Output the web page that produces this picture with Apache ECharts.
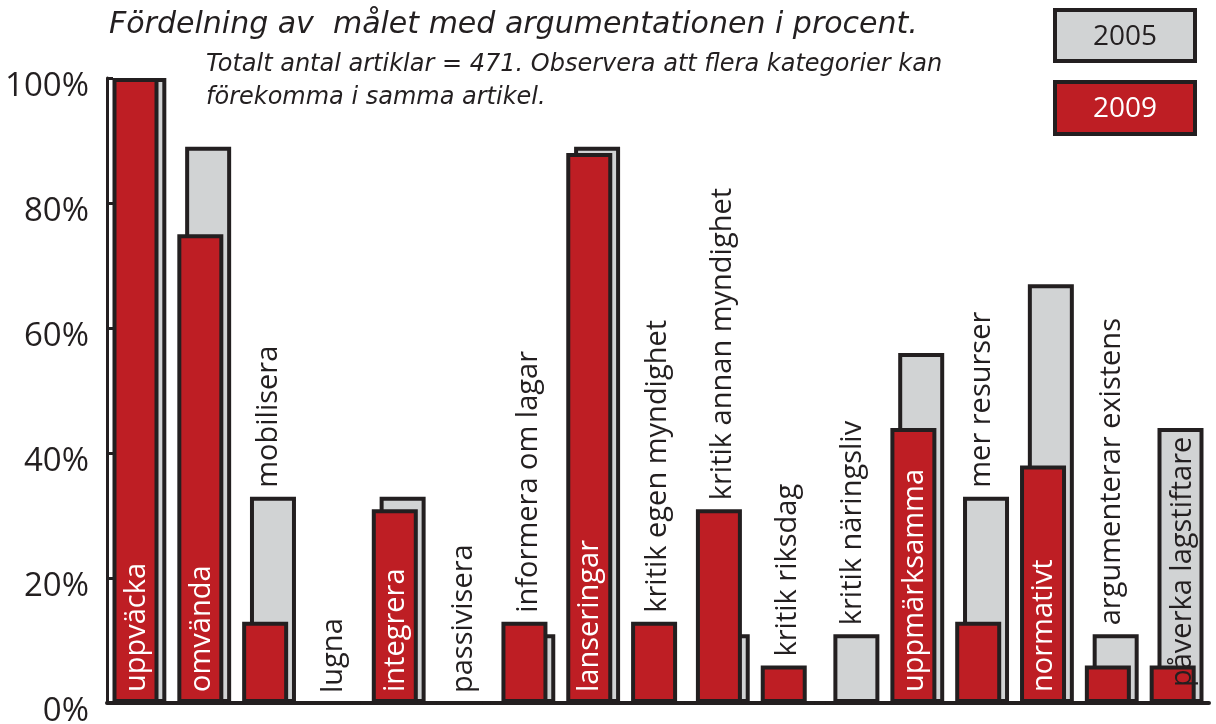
<!DOCTYPE html>
<html>
<head>
<meta charset="utf-8">
<style>
  html, body { margin: 0; padding: 0; background: #fff; }
  #chart { width: 1216px; height: 724px; }
</style>
<script src="https://cdn.jsdelivr.net/npm/echarts@6/dist/echarts.min.js"></script>
</head>
<body>
<div id="chart"></div>
<script>
// kategorier och värden (procent)
const categories = ['uppväcka', 'omvända', 'mobilisera', 'lugna', 'integrera', 'passivisera',
  'informera om lagar', 'lanseringar', 'kritik egen myndighet', 'kritik annan myndighet',
  'kritik riksdag', 'kritik näringsliv', 'uppmärksamma', 'mer resurser', 'normativt',
  'argumenterar existens', 'påverka lagstiftare']
const values2005 = [100, 89, 33, 0, 33, 0, 11, 89, 0, 11, 0, 11, 56, 33, 67, 11, 44]
const values2009 = [100, 75, 13, 0, 31, 0, 13, 88, 13, 31, 6, 0, 44, 13, 38, 6, 6]
// var kategoritexten står: i röd stapel, ovanför stapeln, vid basen, i grå stapel
const labelPlace = ['in', 'in', 'top', 'base', 'in', 'base', 'top', 'in', 'top', 'top',
  'top', 'top', 'in', 'top', 'in', 'top', 'gray']
const yTicks = [0, 20, 40, 60, 80, 100]

const RED = '#be1e24'
const GREY = '#d1d3d4'
const INK = '#231f20'

const chart = echarts.init(document.getElementById('chart'))

const labelData = categories.map((c, i) => [i, labelPlace[i] === 'top' ? Math.max(values2005[i], values2009[i]) : 0])

chart.setOption({
  animation: false,
  title: [{
    text: 'Fördelning av  målet med argumentationen i procent.',
    left: 104,
    top: 5,
    textStyle: { fontFamily: 'DejaVu Sans', fontStyle: 'italic', fontWeight: 'normal', fontSize: 30, color: INK }
  }, {
    text: 'Totalt antal artiklar = 471. Observera att flera kategorier kan\nförekomma i samma artikel.',
    left: 201,
    top: 43,
    textStyle: { fontFamily: 'DejaVu Sans', fontStyle: 'italic', fontWeight: 'normal', fontSize: 24, lineHeight: 33, color: INK }
  }],
  graphic: [{
    type: 'group',
    left: 1053,
    top: 8,
    children: [{
      type: 'rect',
      shape: { x: 0, y: 0, width: 140, height: 51 },
      style: { fill: GREY, stroke: INK, lineWidth: 4 }
    }, {
      type: 'text',
      x: 70, y: 27,
      style: { text: '2005', fill: INK, font: '28px "Open Sans"', align: 'center', verticalAlign: 'middle' }
    }, {
      type: 'rect',
      shape: { x: 0, y: 72, width: 140, height: 52 },
      style: { fill: RED, stroke: INK, lineWidth: 4 }
    }, {
      type: 'text',
      x: 70, y: 99,
      style: { text: '2009', fill: '#fff', font: '28px "Open Sans"', align: 'center', verticalAlign: 'middle' }
    }]
  }],
  grid: {
    left: 107,
    right: 7,
    top: 78,
    bottom: 21,
    outerBoundsMode: 'none'
  },
  xAxis: {
    type: 'category',
    data: categories,
    axisLine: { lineStyle: { color: INK, width: 4 } },
    axisTick: { show: false },
    axisLabel: { show: false }
  },
  yAxis: {
    type: 'value',
    min: 0,
    max: 100,
    interval: 20,
    axisLine: { show: true, lineStyle: { color: INK, width: 3 } },
    axisTick: { show: true, inside: true, length: 6, lineStyle: { color: INK, width: 3 } },
    splitLine: { show: false },
    axisLabel: {
      formatter: v => yTicks.includes(v) ? v + '%' : '',
      fontFamily: 'Open Sans',
      fontSize: 33,
      color: INK,
      margin: 18,
      verticalAlign: 'top',
      lineHeight: 18
    }
  },
  series: [{
    name: '2009',
    type: 'bar',
    data: values2009,
    barWidth: 46,
    barGap: '-83%',
    z: 3,
    clip: false,
    itemStyle: { color: RED, borderColor: INK, borderWidth: 4 }
  }, {
    name: '2005',
    type: 'bar',
    data: values2005,
    barWidth: 46,
    barGap: '-83%',
    z: 2,
    clip: false,
    itemStyle: { color: GREY, borderColor: INK, borderWidth: 4 }
  }, {
    name: 'etiketter',
    type: 'custom',
    z: 5,
    silent: true,
    data: labelData,
    renderItem: (params, api) => {
      const i = api.value(0)
      const p = api.coord([i, api.value(1)])
      const place = labelPlace[i]
      let dx = 0
      let dy = -9
      if (place === 'in') { dx = -3; dy = -11 }
      if (place === 'base') { dy = -10 }
      if (place === 'gray') { dx = 6; dy = -16 }
      return {
        type: 'text',
        x: p[0] + dx,
        y: p[1] + dy,
        rotation: Math.PI / 2,
        style: {
          text: categories[i],
          fill: place === 'in' ? '#fff' : INK,
          font: '29px "Open Sans"',
          align: 'left',
          verticalAlign: 'middle'
        }
      }
    }
  }]
})
</script>
</body>
</html>
